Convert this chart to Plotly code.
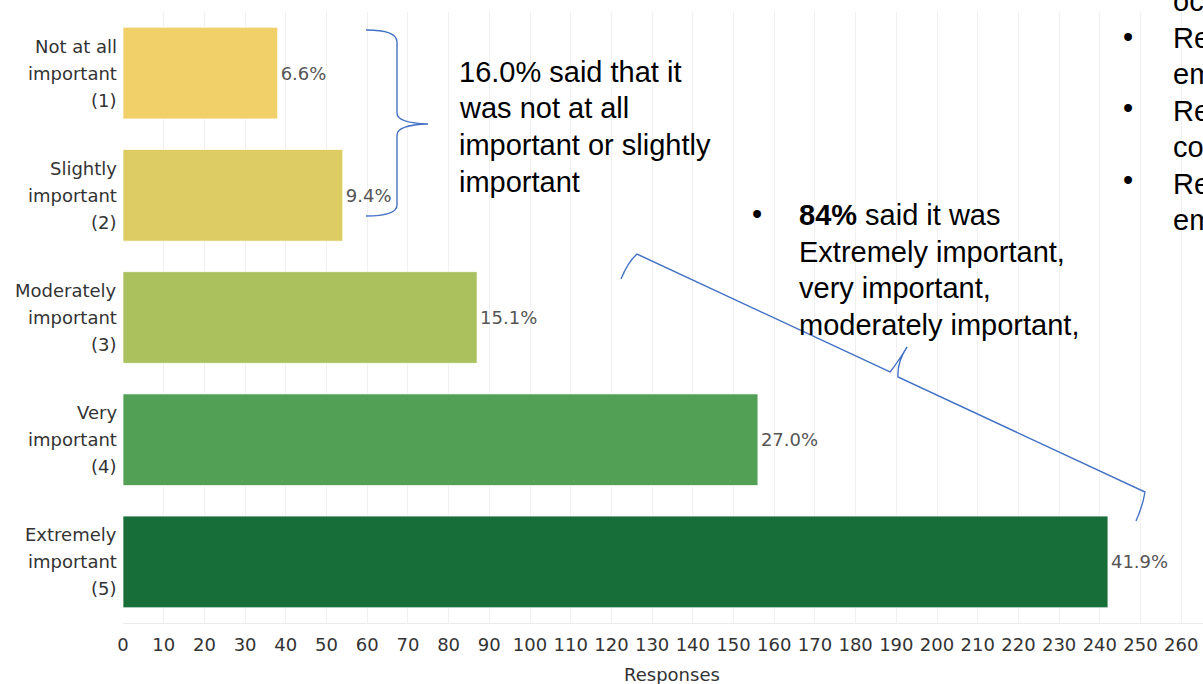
import plotly.graph_objects as go

# Survey responses per importance level
categories = [
    "Not at all important (1)",
    "Slightly important (2)",
    "Moderately important (3)",
    "Very important (4)",
    "Extremely important (5)",
]
label_lines = [
    ["Not at all", "important", "(1)"],
    ["Slightly", "important", "(2)"],
    ["Moderately", "important", "(3)"],
    ["Very", "important", "(4)"],
    ["Extremely", "important", "(5)"],
]
responses = [38, 54, 87, 156, 242]
bar_colors = ["#F1D06A", "#DCCC63", "#ABC15E", "#52A055", "#176E38"]
x_ticks = list(range(0, 261, 10))

total = sum(responses)
pct_text = [f"{100 * v / total:.1f}%" for v in responses]

# plot area in page pixels
L, R, T, B = 123, 1203, 12, 623
W, H = R - L, B - T


def px(x):
    return (x - L) / W


def py(y):
    return (B - y) / H


def path(cmds):
    out = []
    for c in cmds:
        op, pts = c[0], c[1:]
        coords = " ".join(f"{px(pts[i]):.5f},{py(pts[i + 1]):.5f}" for i in range(0, len(pts), 2))
        out.append(f"{op} {coords}")
    return " ".join(out)


TXT = "DejaVu Sans"
SLIDE = "Liberation Sans, Arial"
SLIDE_SIZE = 29
SLIDE_STEP = 36.5

fig = go.Figure(
    go.Bar(
        y=categories,
        x=responses,
        orientation="h",
        marker=dict(color=bar_colors, line=dict(color="rgba(255,255,255,0.7)", width=1)),
        text=pct_text,
        textposition="outside",
        textfont=dict(family=TXT, size=18, color="#555555"),
        cliponaxis=False,
        width=0.75,
    )
)

annotations = []
# multi-line category labels
for cat, lines in zip(categories, label_lines):
    for i, line in enumerate(lines):
        annotations.append(dict(
            x=0, xref="paper", y=cat, yref="y", text=line, showarrow=False,
            xanchor="right", yanchor="middle", xshift=-4, yshift=(1 - i) * 27,
            font=dict(family=TXT, size=18, color="#333333"),
        ))


def slide_text(x, y_first, lines, anchor="left"):
    for i, line in enumerate(lines):
        annotations.append(dict(
            x=px(x), y=py(y_first + i * SLIDE_STEP), xref="paper", yref="paper",
            showarrow=False, xanchor=anchor, yanchor="middle", text=line,
            font=dict(family=SLIDE, size=SLIDE_SIZE, color="#000000"),
        ))


# slide call-outs
slide_text(457, 72, ["16.0% said that it", "was not at all",
                     "important or slightly", "important"])
slide_text(757, 214, ["•"], anchor="center")
slide_text(797, 215, ["<b>84%</b> said it was", "Extremely important,",
                      "very important,", "moderately important,"])
slide_text(1171, 1, ["oc", "Re", "em", "Re", "co", "Re", "em"])
for yb in (37, 108, 180):
    slide_text(1128, yb, ["•"], anchor="center")

# axis title
annotations.append(dict(
    x=px(672), y=py(675), xref="paper", yref="paper", showarrow=False,
    xanchor="center", yanchor="middle", text="Responses",
    font=dict(family=TXT, size=18, color="#333333"),
))

brace_line = dict(color="#4472C4", width=1.4)
shapes = [
    dict(type="path", xref="paper", yref="paper", line=brace_line,
         path=path([("M", 366, 30), ("Q", 397, 30, 397, 42), ("L", 397, 113),
                    ("Q", 397, 123, 428, 124), ("Q", 397, 125, 397, 135),
                    ("L", 397, 205), ("Q", 397, 216, 366, 216)])),
    dict(type="path", xref="paper", yref="paper", line=brace_line,
         path=path([("M", 621, 279), ("Q", 628, 262, 637, 254), ("L", 890, 372),
                    ("Q", 898, 362, 907, 347), ("Q", 897, 362, 898, 377),
                    ("L", 1145, 492), ("Q", 1143, 505, 1136, 521)])),
]

fig.update_layout(
    width=1203, height=684,
    margin=dict(l=L, r=1203 - R, t=T, b=684 - B),
    plot_bgcolor="white", paper_bgcolor="white",
    showlegend=False,
    bargap=0.25,
    annotations=annotations,
    shapes=shapes,
    font=dict(family=TXT, size=18, color="#333333"),
)
fig.update_xaxes(
    range=[0, W / 40.7 * 10],
    tickvals=x_ticks, ticktext=[str(t) for t in x_ticks],
    showgrid=True, gridcolor="#F0F0F0", gridwidth=1,
    zeroline=False, showline=True, linecolor="#EBEBEB", linewidth=1,
    ticks="", ticklabelstandoff=5,
    tickfont=dict(family=TXT, size=18, color="#333333"),
    automargin=False, fixedrange=True,
)
fig.update_yaxes(
    categoryorder="array", categoryarray=categories, autorange="reversed",
    showticklabels=False, showgrid=False, zeroline=False, ticks="",
    automargin=False, fixedrange=True,
)

fig.write_html("out.html", config={"displayModeBar": False})
